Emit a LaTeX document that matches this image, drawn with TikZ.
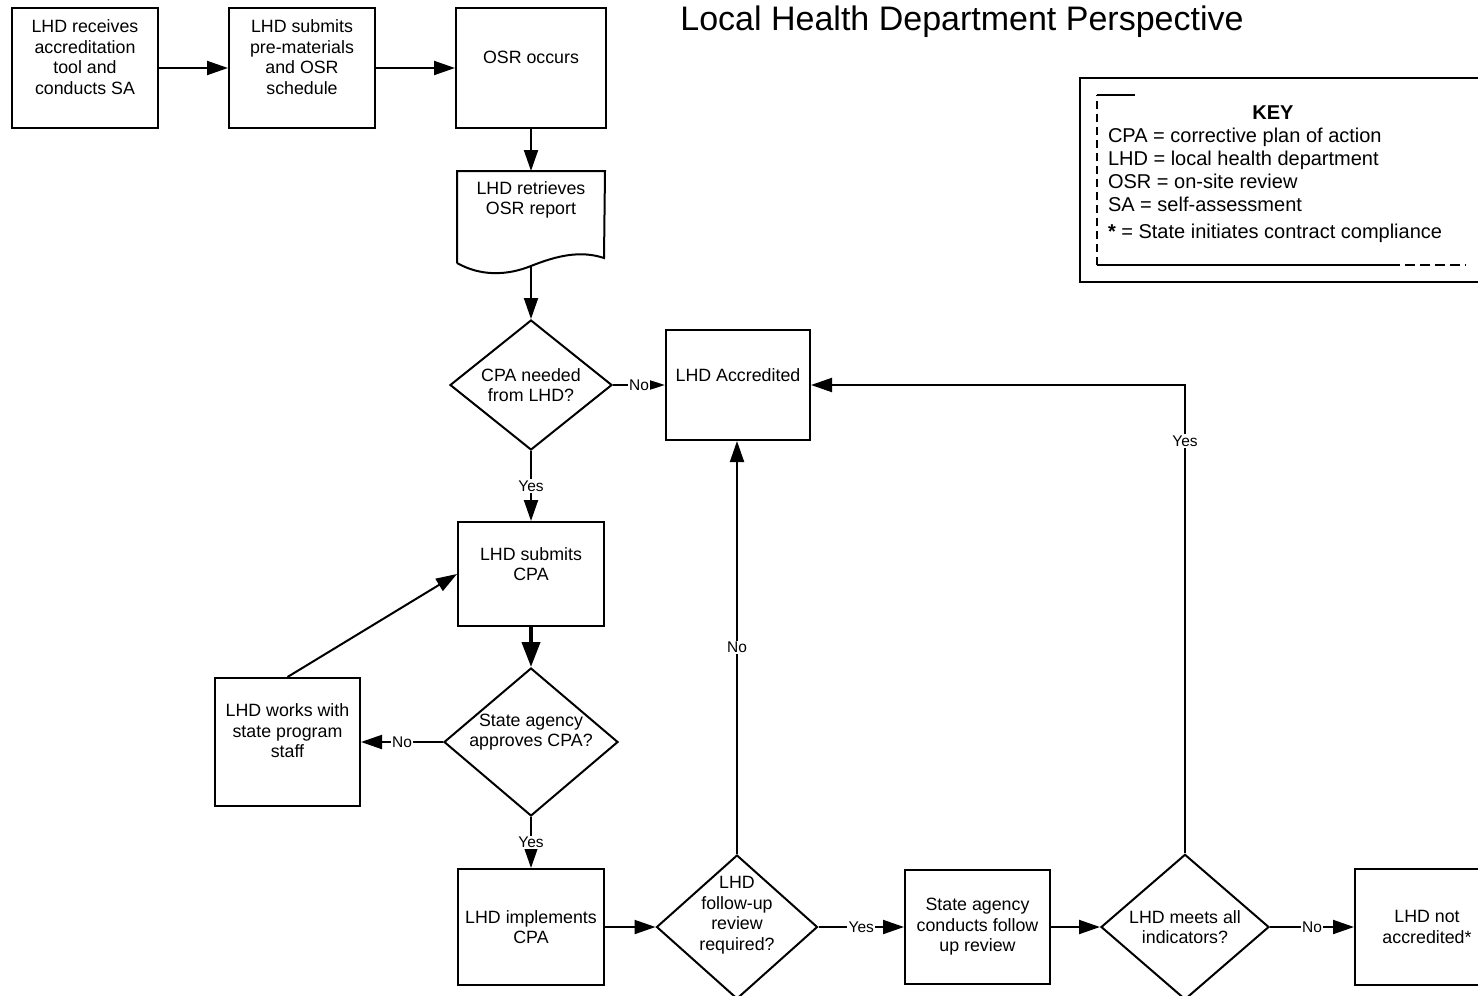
\documentclass[tikz,border=0pt]{standalone}
\usepackage{fontspec}
\setmainfont{Liberation Sans}
\usetikzlibrary{shapes,arrows.meta,positioning,calc}

\begin{document}
\begin{tikzpicture}[
	x = 1pt, y = -1pt,
	line width = 2pt,
	>={Triangle[length=21pt,width=14pt]},
	box/.style 2 args = {draw, rectangle, minimum width=#1, minimum height=#2, inner sep=0pt},
	choice/.style 2 args = {draw, diamond, minimum width=#1, minimum height=#2, inner sep=0pt},
	txt/.style = {align=center, font=\fontsize{17.8}{20.5}\selectfont},
	lbl/.style = {fill=white, inner sep=1.5pt, font=\fontsize{15.5}{17}\selectfont},
	keytxt/.style = {inner sep=0pt, font=\fontsize{20}{23}\selectfont}
	]

	\useasboundingbox (0,0) rectangle (1478,996);

	\node[anchor=base, font=\fontsize{34}{40}\selectfont] (title) at (962,30) {Local Health Department Perspective};

	\node[box={146pt}{120pt}, label={[txt,yshift=11pt]center:LHD receives\\accreditation\\tool and\\conducts SA}] (recv) at (85,68) {};
	\node[box={146pt}{120pt}, label={[txt,yshift=11pt]center:LHD submits\\pre-materials\\and OSR\\schedule}] (submit) at (302,68) {};
	\node[box={150pt}{120pt}, label={[txt,yshift=11pt]center:OSR occurs}] (osr) at (531,68) {};

	\node[box={146pt}{90pt}, draw=none, label={[txt,yshift=17pt]center:LHD retrieves\\OSR report}] (doc) at (531,217) {};
	\coordinate (docb) at (531,266);
	\draw (doc.south west) -- (doc.north west) -- (doc.north east) -- (604,258)
		.. controls (580,250) and (556,256) .. (docb)
		.. controls (506,276) and (480,276) .. (doc.south west);

	\node[choice={162pt}{130pt}, label={[txt]center:CPA needed\\from LHD?}] (dia1) at (531,385) {};
	\node[box={144pt}{110pt}, label={[txt,yshift=10pt]center:LHD Accredited}] (accr) at (738,385) {};
	\node[box={146pt}{104pt}, label={[txt,yshift=10pt]center:LHD submits\\CPA}] (subcpa) at (531,574) {};
	\node[choice={174pt}{148pt}, label={[txt,yshift=10pt]center:State agency\\approves CPA?}] (dia2) at (531,742) {};
	\node[box={145pt}{128pt}, label={[txt,yshift=11pt]center:LHD works with\\state program\\staff}] (works) at (287.5,742) {};
	\node[box={146pt}{116pt}, txt] (impl) at (531,927) {LHD implements\\CPA};
	\node[choice={161pt}{144pt}, label={[txt,yshift=12pt]center:LHD\\follow-up\\review\\required?}] (dia3) at (737,927) {};
	\node[box={145pt}{114pt}, txt] (conduct) at (977.5,927) {State agency\\conducts follow\\up review};
	\node[choice={168pt}{132pt}, txt] (dia4) at (1185,927) {LHD meets all\\indicators?};
	\node[box={144pt}{116pt}, txt] (notacc) at (1427,927) {LHD not\\accredited*};

	\draw[->] (recv) -- (submit);
	\draw[->] (submit) -- (osr);
	\draw[->] (osr) -- (doc.north);
	\draw[->] (docb) -- (dia1.north);
	\draw[-{Triangle[length=15pt,width=9pt]}] (dia1.east) -- node[lbl]{No} (accr.west);
	\draw[->] (dia1.south) -- node[lbl]{Yes} (subcpa.north);
	\draw[->, line width=4pt, >={Triangle[length=25pt,width=18pt]}] (subcpa.south) -- (dia2.north);
	\draw[->] (dia2.west) -- node[lbl]{No} (works.east);
	\draw[->] (works.north) -- (subcpa.west);
	\draw[->] (dia2.south) -- node[lbl]{Yes} (impl.north);
	\draw[->] (impl.east) -- (dia3.west);
	\draw[->] (dia3.north) -- node[lbl]{No} (dia3.north |- accr.south);
	\draw[->] (dia3.east) -- node[lbl]{Yes} (conduct.west);
	\draw[->] (conduct.east) -- (dia4.west);
	\draw[->] (dia4.north) |- node[lbl, pos=0.44]{Yes} (accr.east);
	\draw[->] (dia4.east) -- node[lbl]{No} (notacc.west);

	\draw[line width=2.5pt] (1080,78) rectangle (1500,282);
	\draw (1097,265) -- (1390,265);
	\draw[dash pattern=on 10pt off 5pt] (1390,265) -- (1466,265);
	\draw[dash pattern=on 8pt off 5pt] (1097,265) -- (1097,95);
	\draw (1097,95) -- (1135,95);

	\node[keytxt, font=\fontsize{20}{23}\selectfont\bfseries] (keyhead) at (1273,113) {KEY};
	\foreach \ab/\full [count=\i] in {CPA/corrective plan of action, LHD/local health department, OSR/on-site review, SA/self-assessment}
		\node[keytxt, anchor=base west] (key\i) at (1107,{119+23*\i}) {\ab{} = \full};
	\node[keytxt, anchor=base west] (key5) at (1107,238) {\textbf{*} = State initiates contract compliance};

\end{tikzpicture}
\end{document}
